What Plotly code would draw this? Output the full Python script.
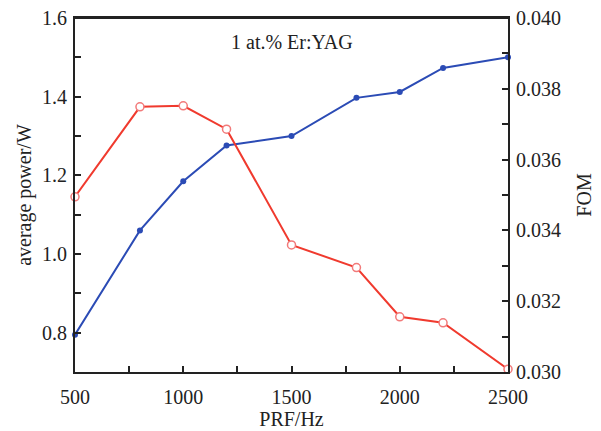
import plotly.graph_objects as go

prf = [500, 800, 1000, 1200, 1500, 1800, 2000, 2200, 2500]
power = [0.795, 1.06, 1.185, 1.276, 1.30, 1.397, 1.412, 1.473, 1.50]
fom = [0.03495, 0.03749, 0.03752, 0.03686, 0.03359, 0.03295, 0.03156, 0.03139, 0.03008]

font_family = "Liberation Serif, Times New Roman, serif"
FS = 20

fig = go.Figure()
fig.add_trace(go.Scatter(
    x=prf, y=power, mode="lines+markers", yaxis="y",
    line=dict(color="#2b4bb5", width=2),
    marker=dict(color="#2b4bb5", size=6, symbol="circle"),
    cliponaxis=False, showlegend=False))
fig.add_trace(go.Scatter(
    x=prf, y=fom, mode="lines+markers", yaxis="y2",
    line=dict(color="#f03a2e", width=2),
    marker=dict(color="white", size=8, symbol="circle",
                line=dict(color="#f27a7a", width=1.5)),
    cliponaxis=False, showlegend=False))

axis_common = dict(
    showline=True, linecolor="#222", linewidth=2,
    ticks="inside", ticklen=6, tickwidth=1.5, tickcolor="#222",
    showgrid=False, zeroline=False, automargin=False,
    ticklabeloverflow="allow",
    tickfont=dict(family=font_family, size=FS, color="#222"),
)

# page body has an 8px default margin, so the figure is sized to fit
fig.update_layout(
    width=593, height=423,
    margin=dict(l=67, r=93, t=10, b=59),
    paper_bgcolor="white", plot_bgcolor="white",
    font=dict(family=font_family, color="#222"),
    xaxis=dict(
        range=[500, 2500], tickvals=[500, 1000, 1500, 2000, 2500],
        minor=dict(tickvals=[750, 1250, 1750, 2250], ticks="inside", ticklen=6, tickcolor="#222"),
        mirror=True, ticklabelstandoff=6,
        title=dict(text="PRF/Hz", font=dict(family=font_family, size=FS), standoff=4),
        **axis_common),
    yaxis=dict(
        range=[0.7, 1.6], tickvals=[0.8, 1.0, 1.2, 1.4, 1.6],
        ticktext=["0.8", "1.0", "1.2", "1.4", "1.6"],
        minor=dict(tickvals=[0.9, 1.1, 1.3, 1.5], ticks="inside", ticklen=6, tickcolor="#222"),
        ticklabelstandoff=2,
        title=dict(text="average power/W", font=dict(family=font_family, size=FS), standoff=5),
        **axis_common),
    yaxis2=dict(
        range=[0.030, 0.040], overlaying="y", side="right",
        tickvals=[0.030, 0.032, 0.034, 0.036, 0.038, 0.040],
        ticktext=["0.030", "0.032", "0.034", "0.036", "0.038", "0.040"],
        minor=dict(tickvals=[0.031, 0.033, 0.035, 0.037, 0.039], ticks="inside", ticklen=6, tickcolor="#222"),
        ticklabelstandoff=2,
        title=dict(text="FOM", font=dict(family=font_family, size=FS), standoff=17),
        **axis_common),
    shapes=[dict(type="line", xref="paper", yref="paper", x0=0, x1=1, y0=1, y1=1,
                 line=dict(color="#222", width=2))],
    annotations=[dict(
        text="1 at.% Er:YAG", x=0.5, y=0.97, xref="paper", yref="paper",
        xanchor="center", yanchor="top", showarrow=False,
        font=dict(family=font_family, size=FS, color="#222"))],
)

fig.write_html("out.html")
